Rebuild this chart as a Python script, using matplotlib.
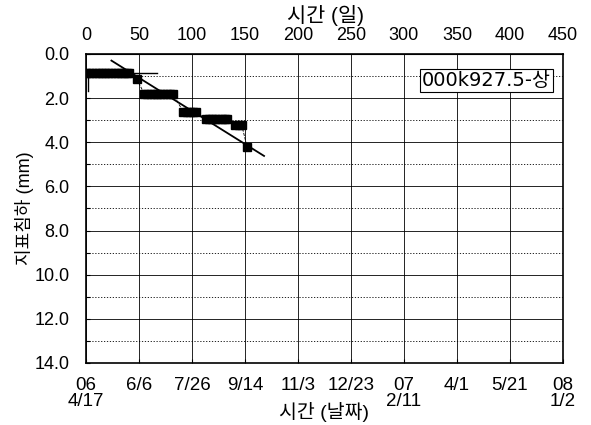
import matplotlib
matplotlib.use("Agg")
import matplotlib.pyplot as plt
from matplotlib.ticker import MultipleLocator

plt.rcParams['font.family'] = ['Liberation Sans', 'Noto Sans CJK KR', 'DejaVu Sans']

# measured settlement (day, mm)
days = [0, 3, 6, 9, 12, 15, 18, 21, 24, 27, 30, 33, 36, 39, 41,
        48,
        55, 58, 61, 64, 67, 70, 73, 76, 79, 82,
        92, 95, 98, 101, 104,
        113, 116, 119, 122, 125, 128, 131, 133,
        141, 144, 147,
        152]
settle = [0.85, 0.85, 0.85, 0.85, 0.85, 0.85, 0.85, 0.85, 0.85, 0.85, 0.85, 0.85, 0.85, 0.85, 0.85,
          1.15,
          1.8, 1.8, 1.8, 1.8, 1.8, 1.8, 1.8, 1.8, 1.8, 1.8,
          2.64, 2.64, 2.64, 2.64, 2.64,
          2.95, 2.95, 2.95, 2.95, 2.95, 2.95, 2.95, 2.95,
          3.23, 3.23, 3.23,
          4.22]

# thin guide strokes
start_x = [2, 2]
start_y = [0.85, 1.7]
flat_x = [44, 67]
flat_y = [0.85, 0.85]

# trend line
trend_x = [24, 168]
trend_y = [0.3, 4.62]

day_ticks = [0, 50, 100, 150, 200, 250, 300, 350, 400, 450]
date_labels = ['06\n4/17', '6/6', '7/26', '9/14', '11/3', '12/23', '07\n2/11', '4/1', '5/21', '08\n1/2']
y_ticks = [0, 2, 4, 6, 8, 10, 12, 14]

fs = 13

fig = plt.figure(figsize=(5.91, 4.25), dpi=100)
ax = fig.add_axes([0.1455, 0.146, 0.807, 0.727])

ax.plot(days, settle, color='black', lw=0.6, ls='--', marker='s', ms=5.5,
        mfc='black', mec='black', zorder=3)
ax.plot(start_x, start_y, color='black', lw=1.0, zorder=3)
ax.plot(flat_x, flat_y, color='black', lw=1.0, zorder=3)
ax.plot(trend_x, trend_y, color='black', lw=1.3, zorder=4)

ax.set_xlim(0, 450)
ax.set_ylim(14, 0)
ax.set_xticks(day_ticks)
ax.set_xticklabels(date_labels, fontsize=13.5, linespacing=0.95)
ax.set_yticks(y_ticks)
ax.set_yticklabels(['%.1f' % v for v in y_ticks], fontsize=fs)
ax.yaxis.set_minor_locator(MultipleLocator(1))
ax.tick_params(axis='both', which='both', direction='in', length=3, width=0.8)
ax.tick_params(axis='x', pad=10)
ax.tick_params(axis='y', pad=12)

ax.grid(True, which='major', color='black', lw=0.6)
ax.grid(True, which='minor', axis='y', color='black', lw=0.6, ls=(0, (1.5, 2)))
for s in ax.spines.values():
    s.set_linewidth(1.2)

top = ax.secondary_xaxis('top')
top.set_xticks(day_ticks)
top.set_xticklabels([str(d) for d in day_ticks], fontsize=fs)
top.tick_params(length=0, pad=7)
fig.text(0.55, 1 - 15 / 425, '시간 (일)', fontsize=15, ha='center', va='center')

ax.set_xlabel('시간 (날짜)', fontsize=14, labelpad=-6)
ax.set_ylabel('지표침하 (mm)', fontsize=fs, labelpad=0)

ax.text(0.975, 0.945, '000k927.5-상', transform=ax.transAxes, ha='right', va='top',
        fontsize=14, family=['DejaVu Sans', 'Noto Sans CJK KR'],
        bbox=dict(boxstyle='square,pad=0.12', fc='white', ec='black', lw=0.8),
        zorder=5)

fig.savefig('out.png', dpi=100)
